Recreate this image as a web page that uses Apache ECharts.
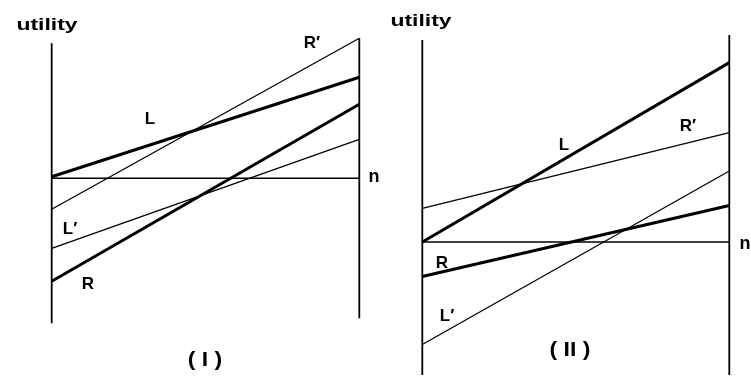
<!DOCTYPE html>
<html>
<head>
<meta charset="utf-8">
<script src="https://cdn.jsdelivr.net/npm/echarts@6/dist/echarts.min.js"></script>
<style>
    html, body { margin: 0; padding: 0; background: #fff; }
    #main { width: 751px; height: 380px; }
</style>
</head>
<body>
<div id="main"></div>
<script>
    // x: 0 = left end, 1 = right end (n)
    var xEnds = [0, 1];

    // panel (I) utilities at the two ends, n line = 0
    var p1L = [0.15, 10.1];
    var p1Rp = [-3.1, 14.0];
    var p1R = [-10.3, 7.4];
    var p1Lp = [-7.0, 3.9];
    var p1N = [0, 0];
    var p1LeftAxis = [13.5, -14.5];
    var p1RightAxis = [14.0, -14.0];

    // panel (II)
    var p2L = [0, 18.2];
    var p2Rp = [3.4, 11.1];
    var p2R = [-3.5, 3.7];
    var p2Lp = [-10.4, 7.2];
    var p2N = [0, 0];
    var p2LeftAxis = [20.5, -13.5];
    var p2RightAxis = [21.0, -13.5];

    function seg(ys){
        return xEnds.map(function(x, i){ return [x, ys[i]]; });
    }
    function vert(x, ys){
        return ys.map(function(y){ return [x, y]; });
    }
    function line(idx, data, w){
        return {
            type: 'line',
            xAxisIndex: idx,
            yAxisIndex: idx,
            data: data,
            symbol: 'none',
            silent: true,
            animation: false,
            lineStyle: { color: '#000', width: w }
        };
    }

    var font = '"Liberation Sans", Arial, sans-serif';
    function txt(x, y, s, size, sx, weight){
        return {
            type: 'text',
            x: x,
            y: y,
            scaleX: sx || 1,
            style: {
                text: s,
                fill: '#000',
                font: (weight || 'bold') + ' ' + size + 'px ' + font,
                align: 'center',
                verticalAlign: 'middle'
            }
        };
    }
    function hideAxis(o){
        o.show = false;
        return o;
    }

    var chart = echarts.init(document.getElementById('main'));
    chart.setOption({
        backgroundColor: '#fff',
        animation: false,
        grid: [
            { left: 51.7, width: 307.6, top: 28.3, height: 300 },
            { left: 422.3, width: 307, top: 35, height: 350 }
        ],
        xAxis: [
            hideAxis({ type: 'value', gridIndex: 0, min: 0, max: 1 }),
            hideAxis({ type: 'value', gridIndex: 1, min: 0, max: 1 })
        ],
        yAxis: [
            hideAxis({ type: 'value', gridIndex: 0, min: -15, max: 15 }),
            hideAxis({ type: 'value', gridIndex: 1, min: -14, max: 21 })
        ],
        series: [
            line(0, vert(0, p1LeftAxis), 1.8),
            line(0, vert(1, p1RightAxis), 1.8),
            line(0, seg(p1N), 1.5),
            line(0, seg(p1L), 3),
            line(0, seg(p1Rp), 1.3),
            line(0, seg(p1R), 3),
            line(0, seg(p1Lp), 1.3),

            line(1, vert(0, p2LeftAxis), 1.8),
            line(1, vert(1, p2RightAxis), 1.8),
            line(1, seg(p2N), 1.5),
            line(1, seg(p2L), 3),
            line(1, seg(p2Rp), 1.3),
            line(1, seg(p2R), 3),
            line(1, seg(p2Lp), 1.3)
        ],
        graphic: [
            txt(47, 25, 'utility', 17, 1.35),
            txt(150, 119, 'L', 17),
            txt(312, 43, 'R′', 17),
            txt(70, 229, 'L′', 17),
            txt(88, 284, 'R', 17),
            txt(374, 177, 'n', 18),
            txt(205, 360, '( I )', 20, 1.15),

            txt(421, 21, 'utility', 17, 1.35),
            txt(564, 145, 'L', 17),
            txt(688, 126, 'R′', 17),
            txt(442, 263, 'R', 17),
            txt(447, 316, 'L′', 17),
            txt(745, 244, 'n', 18),
            txt(570, 350, '( II )', 20, 1.15)
        ]
    });
</script>
</body>
</html>
